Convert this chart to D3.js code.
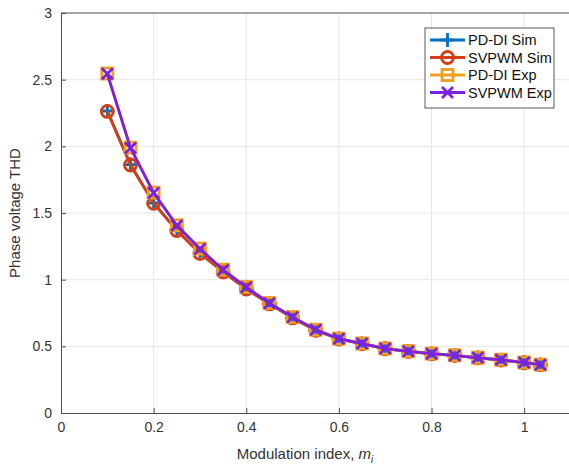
<!DOCTYPE html>
<html>
<head>
<meta charset="utf-8">
<script src="https://cdn.jsdelivr.net/npm/d3@7"></script>
<style>
  body { margin: 0; background: #fff; }
  svg { display: block; font-family: "Liberation Sans", Arial, sans-serif; }
</style>
</head>
<body>
<svg width="569" height="468"></svg>
<script>
const mi = [0.1, 0.15, 0.2, 0.25, 0.3, 0.35, 0.4, 0.45, 0.5, 0.55, 0.6, 0.65, 0.7, 0.75, 0.8, 0.85, 0.9, 0.95, 1.0, 1.035];
const pddiSim  = [2.265, 1.863, 1.575, 1.37, 1.198, 1.06, 0.932, 0.82, 0.715, 0.62, 0.556, 0.52, 0.483, 0.463, 0.445, 0.432, 0.414, 0.398, 0.378, 0.362];
const svpwmSim = [2.262, 1.86, 1.573, 1.368, 1.196, 1.058, 0.93, 0.818, 0.713, 0.619, 0.555, 0.519, 0.482, 0.462, 0.444, 0.431, 0.413, 0.397, 0.377, 0.361];
const pddiExp  = [2.546, 1.99, 1.653, 1.408, 1.233, 1.075, 0.945, 0.825, 0.72, 0.625, 0.558, 0.522, 0.484, 0.464, 0.446, 0.433, 0.415, 0.4, 0.379, 0.363];
const svpwmExp = [2.544, 1.988, 1.651, 1.406, 1.231, 1.073, 0.943, 0.823, 0.719, 0.624, 0.557, 0.521, 0.483, 0.463, 0.445, 0.432, 0.414, 0.399, 0.378, 0.362];
const xTicks = [0, 0.2, 0.4, 0.6, 0.8, 1];
const yTicks = [0, 0.5, 1, 1.5, 2, 2.5, 3];

const series = [
  {name: "PD-DI Sim", values: pddiSim, color: "#0072BD", marker: "plus"},
  {name: "SVPWM Sim", values: svpwmSim, color: "#D63F14", marker: "circle"},
  {name: "PD-DI Exp", values: pddiExp, color: "#EDA020", marker: "square"},
  {name: "SVPWM Exp", values: svpwmExp, color: "#7B22E0", marker: "cross"}
];

const margin = {top: 13, left: 61, bottom: 413};
const svg = d3.select("svg");

const x = d3.scaleLinear().domain([0, 1.1]).range([margin.left, 570.5]);
const y = d3.scaleLinear().domain([0, 3]).range([margin.bottom, margin.top]);

// grid
svg.append("g").selectAll("line")
  .data(xTicks.slice(1))
  .enter().append("line")
  .attr("x1", d => x(d)).attr("x2", d => x(d))
  .attr("y1", y(0)).attr("y2", y(3))
  .attr("stroke", "#e6e6e6").attr("stroke-width", 1);
svg.append("g").selectAll("line")
  .data(yTicks.slice(1, -1))
  .enter().append("line")
  .attr("x1", x(0)).attr("x2", x(1.1))
  .attr("y1", d => y(d)).attr("y2", d => y(d))
  .attr("stroke", "#e6e6e6").attr("stroke-width", 1);

// axes
const xAxis = svg.append("g")
  .attr("transform", `translate(0,${y(0)})`)
  .call(d3.axisBottom(x).tickValues(xTicks).tickFormat(d3.format("")).tickSizeInner(-5).tickSizeOuter(0).tickPadding(9));
const yAxis = svg.append("g")
  .attr("transform", `translate(${x(0)},0)`)
  .call(d3.axisLeft(y).tickValues(yTicks).tickFormat(d3.format("")).tickSizeInner(-5).tickSizeOuter(0).tickPadding(9));
svg.append("line")
  .attr("x1", x(0)).attr("x2", x(1.1)).attr("y1", y(3)).attr("y2", y(3))
  .attr("stroke", "#4d4d4d");
[xAxis, yAxis].forEach(a => {
  a.select(".domain").attr("stroke", "#4d4d4d");
  a.selectAll(".tick line").attr("stroke", "#4d4d4d");
  a.selectAll("text").attr("fill", "#333").style("font-size", "14px");
});

svg.append("text")
  .attr("x", 305).attr("y", 459)
  .attr("text-anchor", "middle")
  .attr("fill", "#333").style("font-size", "15px")
  .html('Modulation index, <tspan font-style="italic">m</tspan><tspan font-style="italic" dy="4" font-size="10px">i</tspan>');

svg.append("text")
  .attr("transform", `translate(20,${(y(0) + y(3)) / 2}) rotate(-90)`)
  .attr("text-anchor", "middle")
  .attr("fill", "#333").style("font-size", "15px")
  .text("Phase voltage THD");

function drawMarker(g, type, color) {
  if (type === "plus") {
    g.append("path").attr("d", "M-7,0H7M0,-7V7").attr("stroke", color).attr("stroke-width", 2.8).attr("fill", "none");
  } else if (type === "circle") {
    g.append("circle").attr("r", 6).attr("stroke", color).attr("stroke-width", 2.8).attr("fill", "none");
  } else if (type === "square") {
    g.append("rect").attr("x", -5.5).attr("y", -5.5).attr("width", 11).attr("height", 11)
      .attr("stroke", color).attr("stroke-width", 2.8).attr("fill", "none");
  } else {
    g.append("path").attr("d", "M-5.5,-5.5L5.5,5.5M-5.5,5.5L5.5,-5.5").attr("stroke", color).attr("stroke-width", 2.8).attr("fill", "none");
  }
}

const line = d3.line().x((d, i) => x(mi[i])).y(d => y(d));

series.forEach(s => {
  svg.append("path")
    .datum(s.values)
    .attr("d", line)
    .attr("fill", "none")
    .attr("stroke", s.color)
    .attr("stroke-width", 2.8);
  s.values.forEach((v, i) => {
    const g = svg.append("g").attr("transform", `translate(${x(mi[i])},${y(v)})`);
    drawMarker(g, s.marker, s.color);
  });
});

// legend
const legend = svg.append("g").attr("transform", "translate(425,28)");
legend.append("rect")
  .attr("width", 129).attr("height", 80)
  .attr("fill", "#fff").attr("stroke", "#333").attr("stroke-width", 0.8);
series.forEach((s, i) => {
  const g = legend.append("g").attr("transform", `translate(0,${12 + i * 17.5})`);
  g.append("line").attr("x1", 5).attr("x2", 40).attr("stroke", s.color).attr("stroke-width", 2.8);
  drawMarker(g.append("g").attr("transform", "translate(22.5,0)"), s.marker, s.color);
  g.append("text").attr("x", 43).attr("y", 5)
    .attr("fill", "#111").style("font-size", "14.5px").text(s.name);
});
</script>
